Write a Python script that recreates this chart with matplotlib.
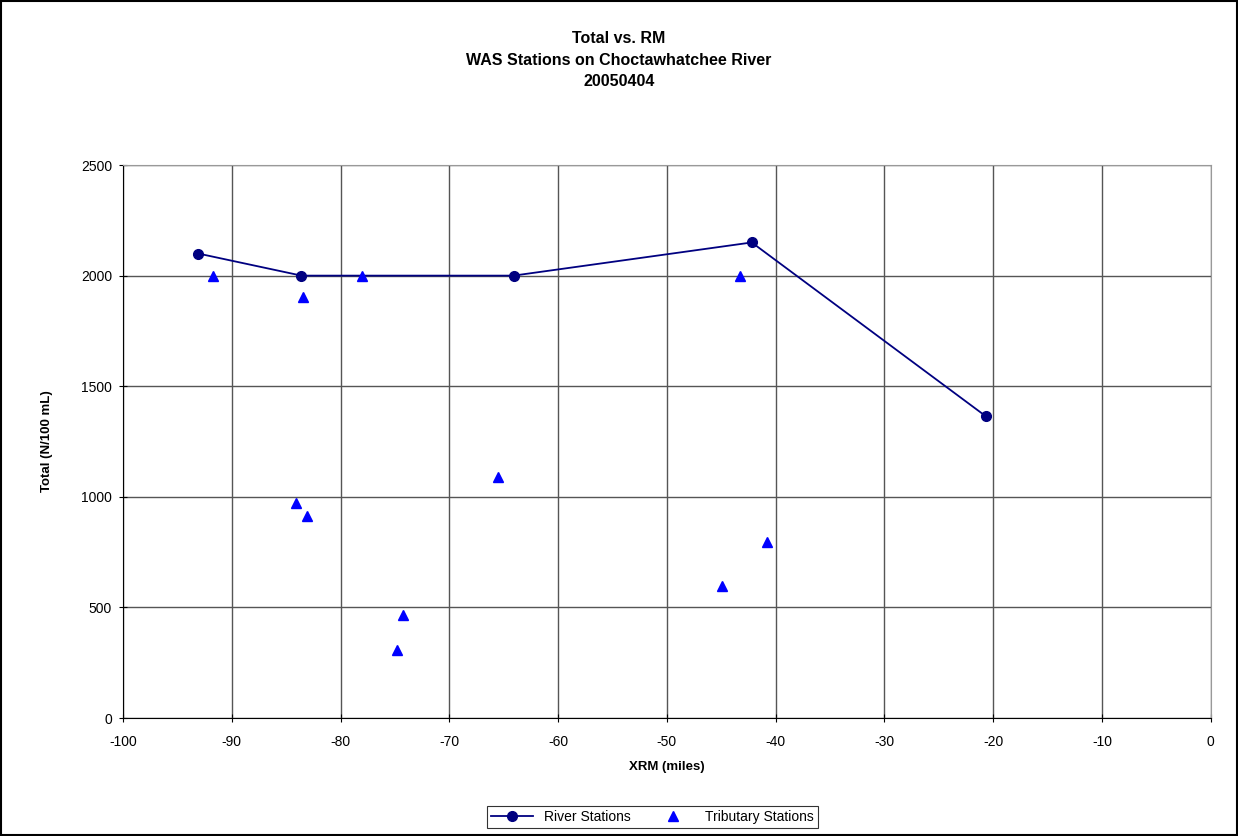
import matplotlib.pyplot as plt
from matplotlib.patches import Rectangle

plt.rcParams['font.family'] = ['Liberation Sans', 'DejaVu Sans']
plt.rcParams['axes.unicode_minus'] = False

# River stations (line with circles)
river_rm = [-93.1, -83.6, -64.1, -42.2, -20.7]
river_total = [2100, 2000, 2000, 2150, 1365]

# Tributary stations (triangles)
trib_rm = [-91.7, -83.5, -78.0, -84.1, -83.1, -74.8, -74.3, -65.5, -44.9, -43.3, -40.8]
trib_total = [2000, 1905, 2000, 970, 913, 306, 467, 1088, 597, 2000, 797]

fig = plt.figure(figsize=(12.38, 8.36), dpi=100)
ax = fig.add_axes([0.0994, 0.1411, 0.8786, 0.6615])

ax.plot(river_rm, river_total, color='#000080', marker='o', markersize=7,
        linewidth=1.3, label='River Stations', zorder=3)
ax.plot(trib_rm, trib_total, linestyle='none', color='#0000FF', marker='^',
        markersize=7, label='Tributary Stations', zorder=3)

ax.set_xlim(-100, 0)
ax.set_ylim(0, 2500)
ax.set_xticks(range(-100, 1, 10))
ax.set_yticks(range(0, 2501, 500))
ax.grid(True, color='#555555', linewidth=1)
ax.set_axisbelow(True)
ax.tick_params(axis='y', labelsize=10, length=6, direction='inout', pad=5)
ax.tick_params(axis='x', labelsize=10, length=6, direction='inout', pad=9)
for side in ['top', 'right']:
    ax.spines[side].set_color('#999999')
for side in ['left', 'bottom']:
    ax.spines[side].set_color('black')

ax.set_xlabel('XRM (miles)', fontsize=9.5, fontweight='bold', labelpad=9)
ax.set_ylabel('Total (N/100 mL)', fontsize=9.5, fontweight='bold', labelpad=20)

fig.text(0.5, 0.963, 'Total vs. RM\nWAS Stations on Choctawhatchee River\n20050404',
         ha='center', va='top', fontsize=11.5, fontweight='bold', linespacing=1.55)

leg = fig.legend(loc='center', bbox_to_anchor=(0.527, 0.023), ncol=2, fontsize=10,
                 frameon=True, fancybox=False, edgecolor='black', borderpad=0.3,
                 handlelength=3, columnspacing=1.5)
leg.get_frame().set_linewidth(0.8)

fig.patches.append(Rectangle((0.001, 0.001), 0.998, 0.998, transform=fig.transFigure,
                             fill=False, edgecolor='black', linewidth=1.5))

fig.savefig('out.png', dpi=100)
